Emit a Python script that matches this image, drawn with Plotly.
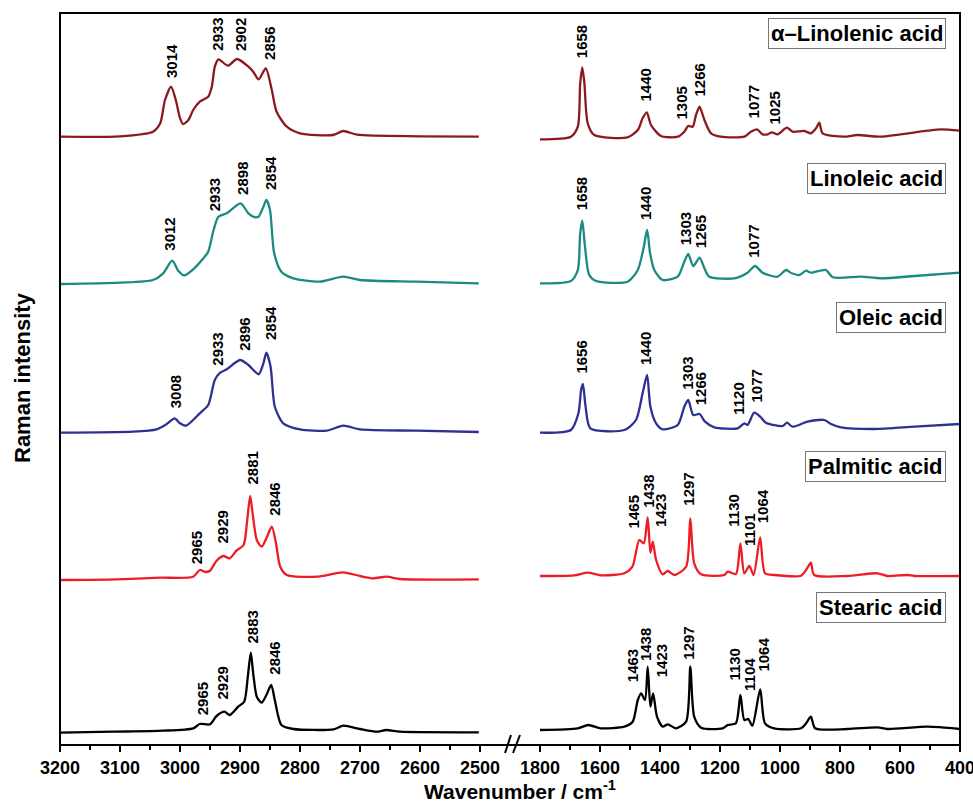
import plotly.graph_objects as go

# ---------------- data ----------------
# C-H stretching region (3200-2500 cm-1) and fingerprint region (1800-400 cm-1)
alin_hi_wn = [3200, 3100, 3045, 3033, 3025, 3015, 3007, 3000, 2995, 2986, 2978, 2967, 2953, 2947, 2942, 2936, 2920,
              2905, 2886, 2878, 2869, 2857, 2847, 2839, 2822, 2800, 2745, 2728, 2705, 2600, 2502]
alin_hi_int = [3.3, 3.7, 8.3, 16.7, 40, 53.3, 40, 22, 16, 20, 30, 38.3, 43.3, 53.3, 73.3, 80.7, 74.3,
               81, 73.3, 68.3, 60.7, 71.7, 50, 28.3, 13.3, 6.7, 5, 9, 5.3, 3.7, 3.3]
alin_lo_wn = [1800, 1697, 1674, 1666, 1659, 1652, 1641, 1619, 1508, 1474, 1458, 1444, 1430, 1397, 1341, 1319, 1306,
              1291, 1280, 1268, 1252, 1230, 1197, 1119, 1097, 1077, 1058, 1041, 1027, 1008, 977, 958, 919, 897,
              880, 869, 858, 786, 742, 663, 508, 463, 400]
alin_lo_int = [0.7, 3.3, 13.3, 56.7, 72.7, 56.7, 16.7, 5, 2.7, 10, 21.7, 27.7, 15, 4, 3.3, 8.3, 14,
               13.3, 25, 33.3, 20, 6.7, 3.3, 3.3, 8.3, 10.7, 5.7, 5.7, 7.7, 5.7, 12.3, 8.3, 9, 6.7,
               11.7, 17.3, 6.7, 3.3, 5, 3.3, 9.3, 10.7, 9.3]

lino_hi_wn = [3200, 3100, 3045, 3028, 3013, 3003, 2993, 2978, 2961, 2953, 2944, 2936, 2922, 2899, 2886, 2875, 2869,
              2861, 2856, 2850, 2843, 2831, 2811, 2767, 2728, 2700, 2606, 2502]
lino_hi_int = [1, 2.3, 5, 11.7, 24.3, 14.3, 9.7, 15.7, 26.7, 33.3, 55, 68.3, 71.7, 81.7, 71.7, 67.7, 68.3,
               78.3, 85, 75, 31.7, 13.3, 6.7, 3.3, 8.3, 5, 3.3, 1.7]
lino_lo_wn = [1800, 1697, 1674, 1666, 1659, 1650, 1636, 1613, 1508, 1474, 1454, 1443, 1433, 1419, 1391, 1341, 1321,
              1306, 1289, 1268, 1252, 1236, 1152, 1108, 1083, 1058, 1008, 980, 961, 936, 913, 897, 847, 824,
              730, 663, 552, 400]
lino_lo_int = [1.7, 4, 15, 51.7, 64.3, 38.3, 10, 4, 3.3, 15, 38.3, 55, 31.7, 15, 5, 8.3, 21.7,
               31, 19, 27.3, 16.7, 8.3, 6.7, 12.3, 19, 12.3, 8.3, 15, 11.7, 10, 14.3, 12.3, 15, 7.7,
               8.3, 6.7, 9, 12.3]

olei_hi_wn = [3200, 3078, 3039, 3022, 3009, 3000, 2990, 2967, 2953, 2942, 2933, 2922, 2900, 2886, 2869, 2861, 2856,
              2849, 2842, 2828, 2800, 2756, 2728, 2700, 2606, 2502]
olei_hi_int = [1.3, 2.3, 4.7, 10, 15.7, 10.7, 8.3, 20.7, 29, 54, 61.3, 64.7, 74, 69, 59.7, 70.7, 81.3,
               67.3, 27.3, 10.7, 4.7, 3.3, 8.3, 4.7, 3.3, 2]
olei_lo_wn = [1800, 1697, 1672, 1663, 1657, 1648, 1632, 1519, 1480, 1458, 1443, 1432, 1413, 1391, 1341, 1319, 1306,
              1289, 1268, 1250, 1219, 1141, 1119, 1108, 1086, 1066, 1047, 991, 977, 958, 908, 852, 830, 797,
              686, 552, 400]
olei_lo_int = [1.3, 4, 20.7, 44, 50, 27.3, 5.7, 4, 14, 40.7, 59, 27.3, 10.7, 4.7, 9, 27.3, 34,
               19, 20, 12.3, 6.7, 5.7, 10.7, 9, 21.3, 17.3, 11.3, 8, 11.3, 7.3, 12.3, 14, 10, 6.7,
               5, 7.3, 10]

palm_hi_wn = [3200, 3106, 3033, 2978, 2967, 2958, 2950, 2939, 2928, 2917, 2906, 2894, 2888, 2883, 2879, 2872, 2864,
              2856, 2847, 2840, 2833, 2822, 2772, 2728, 2700, 2678, 2656, 2633, 2502]
palm_hi_int = [1, 1.7, 3.3, 4.3, 11, 9, 10.3, 20.3, 25, 22.7, 30.3, 36, 61, 85, 67.7, 41, 34.3,
               42.7, 54.3, 37.7, 14.3, 6, 4.3, 8.7, 5, 2.7, 4.3, 2, 1.7]
palm_lo_wn = [1800, 1686, 1641, 1597, 1519, 1492, 1469, 1454, 1441, 1432, 1424, 1413, 1391, 1374, 1352, 1313, 1299,
              1286, 1263, 1186, 1174, 1147, 1132, 1119, 1102, 1088, 1066, 1050, 1019, 930, 913, 897, 886,
              775, 675, 642, 574, 552, 400]
palm_lo_int = [5, 5.7, 8.3, 5.7, 7.7, 14.3, 41, 37.7, 63.7, 28.3, 39.3, 21, 6.7, 10, 6, 14.3, 62.7,
               17.7, 6.7, 6, 9.3, 7, 37.7, 7.7, 15, 6, 43.7, 7.7, 6, 5.3, 11, 18.3, 6,
               5, 7.7, 5, 6, 5, 5]

stea_hi_wn = [3200, 3111, 3028, 2978, 2967, 2950, 2939, 2926, 2917, 2903, 2893, 2887, 2882, 2878, 2872, 2864, 2856,
              2848, 2842, 2831, 2811, 2744, 2728, 2700, 2672, 2656, 2633, 2502]
stea_hi_int = [0.3, 1.3, 2.3, 4.7, 9, 8.7, 17, 21.3, 18, 26.3, 31.3, 56.3, 80.3, 59.7, 36.3, 30.3, 38,
               48, 33, 8, 4, 3.7, 7.3, 4, 1.3, 3, 1.3, 0.7]
stea_lo_wn = [1800, 1674, 1639, 1597, 1519, 1491, 1474, 1463, 1450, 1441, 1432, 1423, 1410, 1391, 1374, 1347, 1313,
              1299, 1286, 1263, 1191, 1174, 1147, 1132, 1119, 1106, 1092, 1066, 1050, 1019, 930, 913, 897,
              883, 775, 675, 642, 508, 400]
stea_lo_int = [3, 4.7, 8, 4.7, 6.3, 11.3, 33, 39.7, 33, 66.3, 26.3, 39.7, 16.3, 6.3, 8.7, 4.7, 11.3,
               66.3, 16.3, 5.3, 4.7, 8, 9.7, 38, 13, 14, 7.3, 43.7, 9.7, 4.7, 4.7, 9.7, 16.3,
               4.7, 4, 5.7, 4, 6.3, 4]

names = ["α–Linolenic acid", "Linoleic acid", "Oleic acid", "Palmitic acid", "Stearic acid"]
stack_offsets = [605, 460, 311, 164, 12]
colors = ["#8B1A1F", "#1B8A82", "#2E3192", "#EE1C24", "#000000"]

spectra = [
    (alin_hi_wn, alin_hi_int, alin_lo_wn, alin_lo_int),
    (lino_hi_wn, lino_hi_int, lino_lo_wn, lino_lo_int),
    (olei_hi_wn, olei_hi_int, olei_lo_wn, olei_lo_int),
    (palm_hi_wn, palm_hi_int, palm_lo_wn, palm_lo_int),
    (stea_hi_wn, stea_hi_int, stea_lo_wn, stea_lo_int),
]

# peak labels: (text, label x in wavenumber, label bottom in plot units)
peak_labels_hi = [
    [("3014", 3015, 665), ("2933", 2938, 692), ("2902", 2899, 692), ("2856", 2851, 683)],
    [("3012", 3018, 492), ("2933", 2942, 532), ("2898", 2896, 548), ("2854", 2850, 553)],
    [("3008", 3007, 335), ("2933", 2938, 377), ("2896", 2893, 392), ("2854", 2850, 403)],
    [("2965", 2972, 179), ("2929", 2930, 199), ("2881", 2880, 258), ("2846", 2843, 227)],
    [("2965", 2962, 28), ("2929", 2930, 43), ("2883", 2880, 99), ("2846", 2843, 68)],
]
peak_labels_lo = [
    [("1658", 1661, 685), ("1440", 1450, 641), ("1305", 1330, 623), ("1266", 1270, 646), ("1077", 1087, 625),
     ("1025", 1020, 618)],
    [("1658", 1661, 533), ("1440", 1448, 523), ("1303", 1314, 498), ("1265", 1264, 495), ("1077", 1089, 485)],
    [("1656", 1663, 369), ("1440", 1448, 378), ("1303", 1309, 353), ("1266", 1264, 338), ("1120", 1139, 328),
     ("1077", 1080, 340)],
    [("1465", 1487, 215), ("1438", 1439, 235), ("1423", 1398, 216), ("1297", 1306, 237), ("1130", 1156, 216),
     ("1101", 1102, 197), ("1064", 1059, 220)],
    [("1463", 1491, 61), ("1438", 1448, 82), ("1423", 1394, 66), ("1297", 1306, 83), ("1130", 1153, 62),
     ("1104", 1102, 52), ("1064", 1058, 71)],
]

hi_ticks = [3200, 3100, 3000, 2900, 2800, 2700, 2600, 2500]
lo_ticks = [1800, 1600, 1400, 1200, 1000, 800, 600, 400]

# ---------------- figure ----------------
FONT = "Arial, Liberation Sans, sans-serif"
W, H = 973, 803
ML, MR, MT, MB = 60, 13, 13, 58
PW, PH = W - ML - MR, H - MT - MB

fig = go.Figure()
for (hw, hi, lw, li), off, col, nm in zip(spectra, stack_offsets, colors, names):
    fig.add_trace(go.Scatter(x=hw, y=[v + off for v in hi], mode="lines", xaxis="x", yaxis="y",
                             line=dict(color=col, width=2.3, shape="spline", smoothing=0.7),
                             showlegend=False, name=nm))
    fig.add_trace(go.Scatter(x=lw, y=[v + off for v in li], mode="lines", xaxis="x2", yaxis="y",
                             line=dict(color=col, width=2.3, shape="spline", smoothing=0.7),
                             showlegend=False, name=nm))

annotations = []
for labs in peak_labels_hi:
    for t, xv, yv in labs:
        annotations.append(dict(x=xv, y=yv, xref="x", yref="y", text="<b>%s</b>" % t, showarrow=False,
                                textangle=-90, xanchor="center", yanchor="bottom",
                                font=dict(family=FONT, size=15, color="black")))
for labs in peak_labels_lo:
    for t, xv, yv in labs:
        annotations.append(dict(x=xv, y=yv, xref="x2", yref="y", text="<b>%s</b>" % t, showarrow=False,
                                textangle=-90, xanchor="center", yanchor="bottom",
                                font=dict(family=FONT, size=15, color="black")))

# name boxes (pixel centres of the boxes)
box_centre_px = [33, 178.5, 317, 466.5, 607.5]
for nm, cy in zip(names, box_centre_px):
    annotations.append(dict(x=(946 - ML) / PW, y=(MT + PH - cy) / PH, xref="paper", yref="paper",
                            text="<b>%s</b>" % nm, showarrow=False, xanchor="right", yanchor="middle",
                            font=dict(family=FONT, size=22, color="black"),
                            bordercolor="#777777", borderwidth=1, borderpad=2, bgcolor="white"))

annotations.append(dict(x=(520 - ML) / PW, y=(MT + PH - 790) / PH, xref="paper", yref="paper",
                        text="<b>Wavenumber / cm<sup>-1</sup></b>", showarrow=False,
                        xanchor="center", yanchor="middle", font=dict(family=FONT, size=21, color="black")))
annotations.append(dict(x=(22 - ML) / PW, y=(MT + PH - 378) / PH, xref="paper", yref="paper",
                        text="<b>Raman intensity</b>", showarrow=False, textangle=-90,
                        xanchor="center", yanchor="middle", font=dict(family=FONT, size=22, color="black")))

def px2paper(x, y):
    return (x - ML) / PW, (MT + PH - y) / PH

shapes = [dict(type="rect", xref="paper", yref="paper", x0=0, x1=1, y0=0, y1=1,
               line=dict(color="black", width=2), layer="above")]
for (xa, ya, xb, yb) in [(505, 753, 511, 735), (513, 753, 520, 735)]:
    x0, y0 = px2paper(xa, ya)
    x1, y1 = px2paper(xb, yb)
    shapes.append(dict(type="line", xref="paper", yref="paper", x0=x0, y0=y0, x1=x1, y1=y1,
                       line=dict(color="black", width=2)))

axis_common = dict(showgrid=False, zeroline=False, showline=False, ticks="outside", ticklen=6, tickwidth=2,
                   tickcolor="black", tickfont=dict(family=FONT, size=18, color="black"), anchor="y",
                   automargin=False, ticklabeloverflow="allow")

fig.update_layout(
    width=W, height=H, margin=dict(l=ML, r=MR, t=MT, b=MB, autoexpand=False),
    paper_bgcolor="white", plot_bgcolor="white",
    xaxis=dict(domain=[0, 420 / PW], range=[3200, 2500], tickvals=hi_ticks,
               ticktext=["<b>%d</b>" % v for v in hi_ticks],
               minor=dict(dtick=50, ticks="outside", ticklen=4, tickwidth=1.5, tickcolor="black"),
               **axis_common),
    xaxis2=dict(domain=[480 / PW, 1], range=[1800, 400], tickvals=lo_ticks,
                ticktext=["<b>%d</b>" % v for v in lo_ticks],
                minor=dict(dtick=100, ticks="outside", ticklen=4, tickwidth=1.5, tickcolor="black"),
                **axis_common),
    yaxis=dict(range=[0, PH], showgrid=False, zeroline=False, showline=False, showticklabels=False,
               ticks="", anchor="x", automargin=False),
    annotations=annotations, shapes=shapes,
)

fig.write_html("out.html", config={"displayModeBar": False},
               post_script="document.body.style.margin='0';document.body.style.overflow='hidden';")
